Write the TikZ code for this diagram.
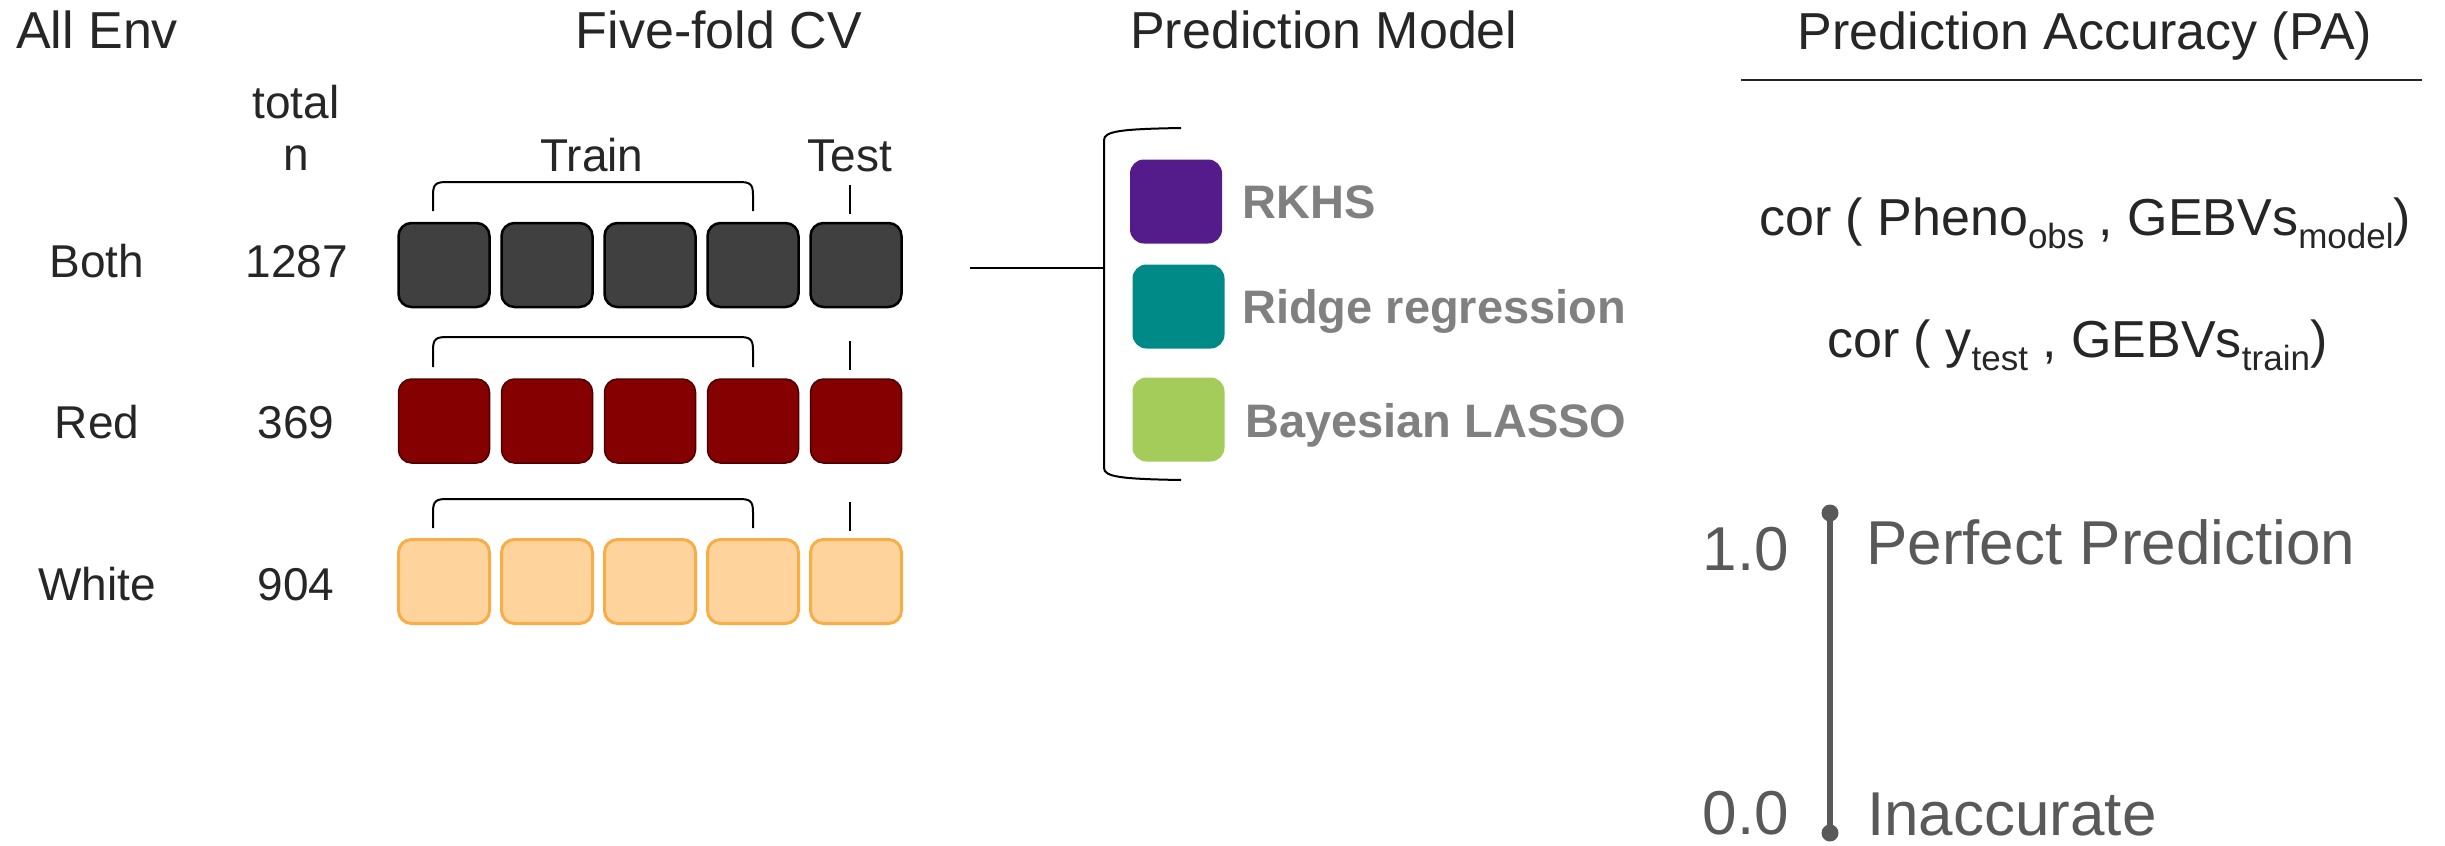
\documentclass[tikz,border=0pt]{standalone}
\usepackage{fontspec}
\setmainfont{Liberation Sans}
\definecolor{ink}{HTML}{262626}
\definecolor{greytxt}{HTML}{808080}
\definecolor{scalegrey}{HTML}{595959}
\definecolor{foldDark}{HTML}{404040}
\definecolor{foldRed}{HTML}{850000}
\definecolor{foldRedEdge}{HTML}{4D0000}
\definecolor{foldPeach}{HTML}{FED49C}
\definecolor{foldPeachEdge}{HTML}{F9AD47}
\definecolor{rkhsCol}{HTML}{541B8A}
\definecolor{ridgeCol}{HTML}{008A87}
\definecolor{lassoCol}{HTML}{A3CC5A}
\newcommand\hdfont{\fontsize{52}{62}\selectfont}
\newcommand\lbfont{\fontsize{46}{55}\selectfont}
\newcommand\mlfont{\fontsize{47}{56}\selectfont}
\newcommand\corfont{\fontsize{52}{62}\selectfont}
\newcommand\subfont{\fontsize{35}{42}\selectfont}
\newcommand\scalefont{\fontsize{62}{74}\selectfont}
\newcommand\sub[1]{\raisebox{-13pt}{\subfont #1}}
\begin{document}
\begin{tikzpicture}[x=1pt,y=-1pt,
  txt/.style={inner sep=0pt, text=ink},
  head/.style={txt, font=\hdfont},
  lbl/.style={txt, font=\lbfont, anchor=base},
  fold/.style={rectangle, rounded corners=13pt, minimum width=91pt, minimum height=84pt, inner sep=0pt},
  brace/.style={draw=black, line width=2pt},
  modelbox/.style={rectangle, rounded corners=14pt, minimum width=92pt, minimum height=84pt, inner sep=0pt},
  modellbl/.style={inner sep=0pt, text=greytxt, font=\mlfont\bfseries, anchor=base west},
  scaletxt/.style={inner sep=0pt, text=scalegrey, font=\scalefont, text depth=0pt},
  dot/.style={circle, fill=scalegrey, inner sep=0pt, minimum size=17pt}]
\useasboundingbox (0,0) rectangle (2445,846);

% column headings
\node[head, anchor=base west] (hEnv) at (16,48) {All Env};
\node[head, anchor=base] (hCV) at (719,48) {Five-fold CV};
\node[head, anchor=base west] (hModel) at (1130,48) {Prediction Model};
\node[head, anchor=base] (hPA) at (2085,49) {Prediction Accuracy (PA)};
\coordinate (ruleL) at (1741,80);
\coordinate (ruleR) at (2422,80);
\draw[ink, line width=2.5pt] (ruleL) -- (ruleR);

% sample size column
\node[lbl] (total) at (296,118) {total};
\node[lbl] (nlab) at (296,170) {n};
\node[lbl] (train) at (592,171) {Train};
\node[lbl] (test) at (850,171) {Test};

% environments and sizes
\node[lbl] (eBoth) at (97,277) {Both};
\node[lbl] (nBoth) at (297,277) {1287};
\node[lbl] (eRed) at (97,438) {Red};
\node[lbl] (nRed) at (296,438) {369};
\node[lbl] (eWhite) at (97,600) {White};
\node[lbl] (nWhite) at (296,600) {904};

% five folds per environment, with train brace and test tick
\foreach \r/\yc/\yt/\yb/\tt/\tb/\fc/\dc/\lw in {
    1/265/182/211/185/214/foldDark/black/2.5pt,
    2/421/337/367/341/370/foldRed/foldRedEdge/1.5pt,
    3/581.5/499/528/502/531/foldPeach/foldPeachEdge/3pt} {
  \foreach \k in {1,...,5} {
    \node[fold, fill=\fc, draw=\dc, line width=\lw] (f\r\k) at ({444+103*(\k-1)},\yc) {};
  }
  \draw[brace] (433,\yb) -- (433,\yt+13) .. controls (433,\yt+2) and (436,\yt) .. (447,\yt)
    -- (739,\yt) .. controls (750,\yt) and (753,\yt+2) .. (753,\yt+13) -- (753,\yb);
  \draw[brace] (850,\tt) -- (850,\tb);
}

% link to the model bracket
\coordinate (cvOut) at (970,268);
\coordinate (brk) at (1104,268);
\draw[brace] (cvOut) -- (brk);
\draw[brace] (1181,128) .. controls (1122,129) and (1104,131) .. (1104,140)
  -- (1104,468) .. controls (1104,477) and (1122,479) .. (1181,480);

% prediction models
\node[modelbox, fill=rkhsCol] (mRKHS) at (1176,201.5) {};
\node[modelbox, fill=ridgeCol] (mRidge) at (1178.5,306.5) {};
\node[modelbox, fill=lassoCol] (mLasso) at (1178.5,419.5) {};
\node[modellbl] (tRKHS) at (1242,218) {RKHS};
\node[modellbl] (tRidge) at (1242,323) {Ridge regression};
\node[modellbl] (tLasso) at (1245,437) {Bayesian LASSO};

% accuracy definitions
\node[txt, font=\corfont, anchor=base west] (cor1) at (1759,235)
  {cor ( Pheno\sub{obs} , GEBVs\sub{model})};
\node[txt, font=\corfont, anchor=base west] (cor2) at (1827,357)
  {cor ( y\sub{test} , GEBVs\sub{train})};

% accuracy scale
\node[dot] (sTop) at (1830,513) {};
\node[dot] (sBot) at (1830,833) {};
\draw[scalegrey, line width=6pt] (sTop.center) -- (sBot.center);
\node[scaletxt, anchor=base east] (one) at (1789,570) {1.0};
\node[scaletxt, anchor=base east] (zero) at (1789,834) {0.0};
\node[scaletxt, anchor=base west] (perfect) at (1866,564) {Perfect Prediction};
\node[scaletxt, anchor=base west] (inacc) at (1867,835) {Inaccurate};
\end{tikzpicture}
\end{document}
